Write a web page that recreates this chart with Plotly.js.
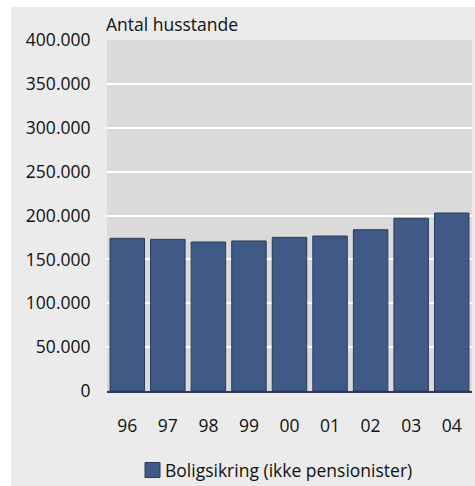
<!DOCTYPE html>
<html>
<head>
<meta charset="utf-8">
<script src="https://cdn.plot.ly/plotly-3.0.1.min.js"></script>
<style>html,body{margin:0;padding:0;background:#fff;}#chart{width:475px;height:486px;}</style>
</head>
<body>
<div id="chart"></div>
<script>
const categories = ["96", "97", "98", "99", "00", "01", "02", "03", "04"];
const values = [174000, 172800, 169800, 171000, 175100, 176600, 183800, 196800, 202800];
const seriesName = "Boligsikring (ikke pensionister)";
const yTickVals = [0, 50000, 100000, 150000, 200000, 250000, 300000, 350000, 400000];
const yTickText = ["0", "50.000", "100.000", "150.000", "200.000", "250.000", "300.000", "350.000", "400.000"];
const yAxisLabel = "Antal husstande";

const fontFam = "Open Sans, sans-serif";
const fs = 17.5;
const barColor = "#405a88", barLine = "#2b3a58";
const trace = {
  type: "bar",
  x: categories,
  y: values,
  name: seriesName,
  marker: {color: barColor, line: {color: barLine, width: 1}},
  showlegend: false,
  hoverinfo: "skip"
};
const L = 107, R = 3, T = 40, B = 95, W = 475, H = 486;
const pw = W - L - R, ph = H - T - B;
const px = v => (v - L) / pw;          // pixel x -> paper x
const py = v => (H - B - v) / ph;      // pixel y -> paper y
const layout = {
  width: W, height: H,
  margin: {l: L, r: R, t: T, b: B, pad: 0},
  paper_bgcolor: "#ebebeb",
  plot_bgcolor: "#dadada",
  font: {family: fontFam, size: fs, color: "#111"},
  bargap: 0.15,
  showlegend: false,
  xaxis: {
    type: "category",
    showgrid: false,
    showline: true, linecolor: barLine, linewidth: 1.5,
    ticks: "outside", ticklen: 18, tickcolor: "rgba(0,0,0,0)",
    tickfont: {family: fontFam, size: fs, color: "#111"},
    fixedrange: true
  },
  yaxis: {
    range: [0, 400000],
    tickvals: yTickVals, ticktext: yTickText,
    showgrid: true, gridcolor: "#ffffff", gridwidth: 2,
    zeroline: false, showline: false,
    ticks: "outside", ticklen: 12, tickcolor: "rgba(0,0,0,0)",
    tickfont: {family: fontFam, size: fs, color: "#111"},
    fixedrange: true
  },
  annotations: [
    {text: yAxisLabel, xref: "paper", yref: "paper",
     x: px(104), y: py(38), xanchor: "left", yanchor: "bottom",
     showarrow: false, font: {family: fontFam, size: fs, color: "#111"}},
    {text: seriesName, xref: "paper", yref: "paper",
     x: px(163), y: py(470), xanchor: "left", yanchor: "middle",
     showarrow: false, font: {family: fontFam, size: fs, color: "#111"}}
  ],
  shapes: [
    {type: "rect", xref: "paper", yref: "paper", layer: "below",
     x0: px(-5), x1: px(W + 5), y0: py(7), y1: py(-5),
     fillcolor: "#ffffff", line: {width: 0}},
    {type: "rect", xref: "paper", yref: "paper", layer: "below",
     x0: px(-5), x1: px(11), y0: py(H + 5), y1: py(-5),
     fillcolor: "#ffffff", line: {width: 0}},
    {type: "rect", xref: "paper", yref: "paper", layer: "above",
     x0: px(145), x1: px(160), y0: py(477.5), y1: py(462.5),
     fillcolor: barColor, line: {color: barLine, width: 1}}
  ]
};
Plotly.newPlot("chart", [trace], layout, {displayModeBar: false, staticPlot: true});
</script>
</body>
</html>
